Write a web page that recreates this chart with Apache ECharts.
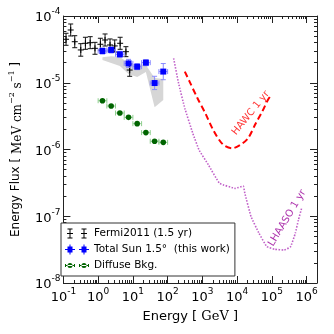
<!DOCTYPE html>
<html>
<head>
<meta charset="utf-8">
<script src="https://cdn.jsdelivr.net/npm/echarts@6/dist/echarts.min.js"></script>
<style>
html, body { margin: 0; padding: 0; background: #fff; }
#chart { width: 334px; height: 334px; }
</style>
</head>
<body>
<div id="chart"></div>
<script>
// Fermi 2011 (1.5 yr)
var fermiE  = [0.119, 0.162, 0.212, 0.316, 0.43, 0.59, 0.81, 1.16, 1.58, 2.2, 3.0, 4.3, 6.3, 8.1];
var fermiF  = [4.48e-5, 6.17e-5, 4.12e-5, 3.1e-5, 3.9e-5, 3.98e-5, 3.28e-5, 3.77e-5, 4.37e-5, 3.68e-5, 3.56e-5, 3.9e-5, 2.92e-5, 1.55e-5];
var fermiLo = [3.64e-5, 5.02e-5, 3.35e-5, 2.5e-5, 3.17e-5, 3.24e-5, 2.67e-5, 3.07e-5, 3.55e-5, 2.99e-5, 2.89e-5, 3.17e-5, 2.46e-5, 1.25e-5];
var fermiHi = [5.51e-5, 7.59e-5, 5.07e-5, 3.85e-5, 4.8e-5, 4.9e-5, 4.03e-5, 4.64e-5, 5.38e-5, 4.53e-5, 4.38e-5, 4.8e-5, 3.47e-5, 1.92e-5];

// Total Sun 1.5 deg and diffuse background share the same energy bins
var binE  = [1.33, 2.37, 4.22, 7.5, 13.3, 23.7, 42.2, 75];
var binLo = [1.0, 1.78, 3.16, 5.62, 10, 17.8, 31.6, 56.2];
var binHi = [1.78, 3.16, 5.62, 10, 17.8, 31.6, 56.2, 100];

var sunF  = [2.99e-5, 3.1e-5, 2.67e-5, 1.95e-5, 1.74e-5, 2.0e-5, 9.9e-6, 1.47e-5];
var sunLo = [2.69e-5, 2.79e-5, 2.41e-5, 1.70e-5, 1.57e-5, 1.80e-5, 7.9e-6, 1.11e-5];
var sunHi = [3.32e-5, 3.44e-5, 2.96e-5, 2.24e-5, 1.93e-5, 2.22e-5, 1.25e-5, 1.94e-5];

// systematic band
var bandHi = [2.40e-5, 2.49e-5, 2.43e-5, 1.98e-5, 1.85e-5, 1.85e-5, 1.18e-5, 1.14e-5];
var bandLo = [2.19e-5, 1.98e-5, 1.78e-5, 1.35e-5, 1.22e-5, 1.45e-5, 4.3e-6, 5.5e-6];

var bkgF = [5.38e-6, 4.48e-6, 3.52e-6, 3.03e-6, 2.44e-6, 1.79e-6, 1.33e-6, 1.28e-6];

// sensitivity curves
var hawcE = [313, 429, 726, 1222, 2056, 3853, 7211, 12220, 20570, 34650, 52700, 76900, 88700];
var hawcF = [1.47e-5, 1.04e-5, 5.85e-6, 3.48e-6, 1.96e-6, 1.20e-6, 1.04e-6, 1.17e-6, 1.47e-6, 2.47e-6, 3.68e-6, 5.52e-6, 6.18e-6];

var lhaasoE = [149, 207, 313, 531, 803, 1504, 3133, 8930, 15040, 16720, 25290, 42850, 72110, 121400, 227400, 346500, 474300, 583000, 721500];
var lhaasoF = [2.32e-5, 9.8e-6, 4.14e-6, 1.75e-6, 9.84e-7, 5.86e-7, 3.12e-7, 2.62e-7, 2.84e-7, 2.21e-7, 9.85e-8, 5.55e-8, 3.5e-8, 3.2e-8, 3.12e-8, 3.5e-8, 5.55e-8, 8.79e-8, 1.32e-7];

var xMin = 0.1, xMax = 2e6, yMin = 1e-8, yMax = 1e-4;

var myChart = echarts.init(document.getElementById('chart'));

function zip(a, b) {
    return a.map(function (v, i) { return [v, b[i]]; });
}

function errData(E, F, lo, hi, el, eh) {
    return E.map(function (e, i) {
        return [e, F[i], lo[i], hi[i], el ? el[i] : e, eh ? eh[i] : e];
    });
}

function seg(x1, y1, x2, y2, color) {
    return { type: 'line', shape: { x1: x1, y1: y1, x2: x2, y2: y2 }, style: { stroke: color, lineWidth: 1 } };
}

function errRender(barColor, marker) {
    return function (params, api) {
        var c = api.coord([api.value(0), api.value(1)]);
        var lo = api.coord([api.value(0), api.value(2)]);
        var hi = api.coord([api.value(0), api.value(3)]);
        var l = api.coord([api.value(4), api.value(1)]);
        var r = api.coord([api.value(5), api.value(1)]);
        var kids = [];
        if (Math.abs(lo[1] - hi[1]) > 0.5) {
            kids.push(seg(c[0], lo[1], c[0], hi[1], barColor));
            kids.push(seg(c[0] - 2.5, lo[1], c[0] + 2.5, lo[1], barColor));
            kids.push(seg(c[0] - 2.5, hi[1], c[0] + 2.5, hi[1], barColor));
        }
        if (Math.abs(r[0] - l[0]) > 0.5) {
            kids.push(seg(l[0], c[1], r[0], c[1], barColor));
            kids.push(seg(l[0], c[1] - 2.5, l[0], c[1] + 2.5, barColor));
            kids.push(seg(r[0], c[1] - 2.5, r[0], c[1] + 2.5, barColor));
        }
        kids.push(marker(c));
        return { type: 'group', children: kids };
    };
}

var plusIcon = 'path://M3.5,0h1v10h-1zM1.5,0h5v1h-5zM1.5,9h5v1h-5zM1,4.5h6v1h-6z' +
    'M17.5,0h1v10h-1zM15.5,0h5v1h-5zM15.5,9h5v1h-5zM15,4.5h6v1h-6z';
var sunIcon = 'path://M0,4.5h10v1h-10zM2.5,2h5v6h-5zM4.5,0h1v10h-1z' +
    'M14,4.5h10v1h-10zM16.5,2h5v6h-5zM18.5,0h1v10h-1z';
var bkgIcon = 'path://M0,4.5h10v1h-10zM0,3.5h1v3h-1zM9,3.5h1v3h-1zM2.5,5a2.5,2.5 0 1,0 5,0a2.5,2.5 0 1,0 -5,0z' +
    'M14,4.5h10v1h-10zM14,3.5h1v3h-1zM23,3.5h1v3h-1zM16.5,5a2.5,2.5 0 1,0 5,0a2.5,2.5 0 1,0 -5,0z';

function tickLabel(v) {
    var e = Math.round(Math.log10(v));
    return '{b|10}{s|' + e + '}';
}

var labelRich = {
    b: { fontSize: 13, fontFamily: 'DejaVu Sans', color: '#000', lineHeight: 17, verticalAlign: 'bottom' },
    s: { fontSize: 9, fontFamily: 'DejaVu Sans', color: '#000', verticalAlign: 'top', lineHeight: 17 }
};

function logAxis(pos, min, max, show) {
    return {
        type: 'log',
        position: pos,
        min: min,
        max: max,
        interval: 1,
        logBase: 10,
        axisLine: { show: true, onZero: false, lineStyle: { color: '#222', width: 1 } },
        axisTick: { show: true, inside: true, length: 7, lineStyle: { color: '#222' } },
        minorTick: { show: true, splitNumber: 9, length: 3, lineStyle: { color: '#222' } },
        splitLine: { show: false },
        minorSplitLine: { show: false },
        axisLabel: show ? { show: true, formatter: tickLabel, rich: labelRich, margin: 4 } : { show: false }
    };
}

var xBottom = logAxis('bottom', xMin, xMax, true);
xBottom.name = 'Energy [ {sf|GeV} ]';
xBottom.nameLocation = 'middle';
xBottom.nameGap = 27;
xBottom.nameTextStyle = { fontSize: 13, fontFamily: 'DejaVu Sans', color: '#000',
    rich: { sf: { fontSize: 13, fontFamily: 'DejaVu Serif', color: '#000' } } };

var yLeft = logAxis('left', yMin, yMax, true);
yLeft.axisLabel.margin = 3;
yLeft.name = 'Energy Flux [ {sf|MeV cm}{sup|−2}{sf| s}{sup|−1} ]';
yLeft.nameLocation = 'middle';
yLeft.nameRotate = 90;
yLeft.nameGap = 37;
yLeft.nameTextStyle = { fontSize: 12, fontFamily: 'DejaVu Sans', color: '#000',
    rich: {
        sf: { fontSize: 12, fontFamily: 'DejaVu Serif', color: '#000', lineHeight: 16, verticalAlign: 'bottom' },
        sup: { fontSize: 8, fontFamily: 'DejaVu Serif', color: '#000', lineHeight: 16, verticalAlign: 'top' }
    } };

option = {
    animation: false,
    backgroundColor: '#fff',
    grid: { left: 50, right: 17, top: 16, bottom: 51 },
    xAxis: [xBottom, logAxis('top', xMin, xMax, false)],
    yAxis: [yLeft, logAxis('right', yMin, yMax, false)],
    legend: {
        orient: 'vertical',
        left: 61,
        top: 223,
        padding: [5, 5, 5, 4],
        itemWidth: 24,
        itemHeight: 10,
        itemGap: 5,
        backgroundColor: '#fff',
        borderColor: '#333',
        borderWidth: 1,
        borderRadius: 0,
        textStyle: { fontSize: 10.5, fontFamily: 'DejaVu Sans', color: '#000' },
        data: [
            { name: 'Fermi2011 (1.5 yr)', icon: plusIcon },
            { name: 'Total Sun 1.5°  (this work)', icon: sunIcon },
            { name: 'Diffuse Bkg.', icon: bkgIcon }
        ]
    },
    series: [
        {
            name: 'band',
            type: 'custom',
            silent: true,
            z: 1,
            data: [0],
            renderItem: function (params, api) {
                var pts = [];
                for (var i = 0; i < binE.length; i++) pts.push(api.coord([binE[i], bandHi[i]]));
                for (var j = binE.length - 1; j >= 0; j--) pts.push(api.coord([binE[j], bandLo[j]]));
                return { type: 'polygon', shape: { points: pts }, style: { fill: '#d6d6d6' } };
            }
        },
        {
            name: 'Fermi2011 (1.5 yr)',
            type: 'custom',
            z: 3,
            itemStyle: { color: '#000' },
            encode: { x: 0, y: 1 },
            data: errData(fermiE, fermiF, fermiLo, fermiHi),
            renderItem: errRender('#111', function (c) {
                return { type: 'group', children: [
                    seg(c[0] - 3, c[1], c[0] + 3, c[1], '#000'),
                    seg(c[0], c[1] - 3, c[0], c[1] + 3, '#000')
                ] };
            })
        },
        {
            name: 'Total Sun 1.5°  (this work)',
            type: 'custom',
            z: 4,
            itemStyle: { color: '#0000ff' },
            encode: { x: 0, y: 1 },
            data: errData(binE, sunF, sunLo, sunHi, binLo, binHi),
            renderItem: errRender('#8a8aff', function (c) {
                return { type: 'rect', shape: { x: c[0] - 3, y: c[1] - 3, width: 6, height: 6 }, style: { fill: '#0000ff' } };
            })
        },
        {
            name: 'Diffuse Bkg.',
            type: 'custom',
            z: 4,
            itemStyle: { color: '#006400' },
            encode: { x: 0, y: 1 },
            data: errData(binE, bkgF, bkgF, bkgF, binLo, binHi),
            renderItem: errRender('#8fcf8f', function (c) {
                return { type: 'circle', shape: { cx: c[0], cy: c[1], r: 2.8 }, style: { fill: '#006400' } };
            })
        },
        {
            name: 'HAWC',
            type: 'line',
            z: 2,
            showSymbol: false,
            smooth: 0.3,
            lineStyle: { color: '#ff0000', width: 2, type: [6, 3.5] },
            data: zip(hawcE, hawcF)
        },
        {
            name: 'LHAASO',
            type: 'line',
            z: 2,
            showSymbol: false,
            smooth: 0.1,
            lineStyle: { color: '#c060c8', width: 1.6, type: [1.5, 1.5] },
            data: zip(lhaasoE, lhaasoF)
        },
        {
            name: 'curveLabels',
            type: 'scatter',
            symbolSize: 0,
            z: 5,
            silent: true,
            data: [
                { value: [24800, 3.52e-6], label: { formatter: 'HAWC 1 yr', rotate: 51, color: '#ff0000' } },
                { value: [278000, 9.4e-8], label: { formatter: 'LHAASO 1 yr', rotate: 59, color: '#990099' } }
            ],
            label: { show: true, position: 'inside', fontSize: 10, fontFamily: 'DejaVu Sans' }
        }
    ]
};
myChart.setOption(option);
</script>
</body>
</html>
